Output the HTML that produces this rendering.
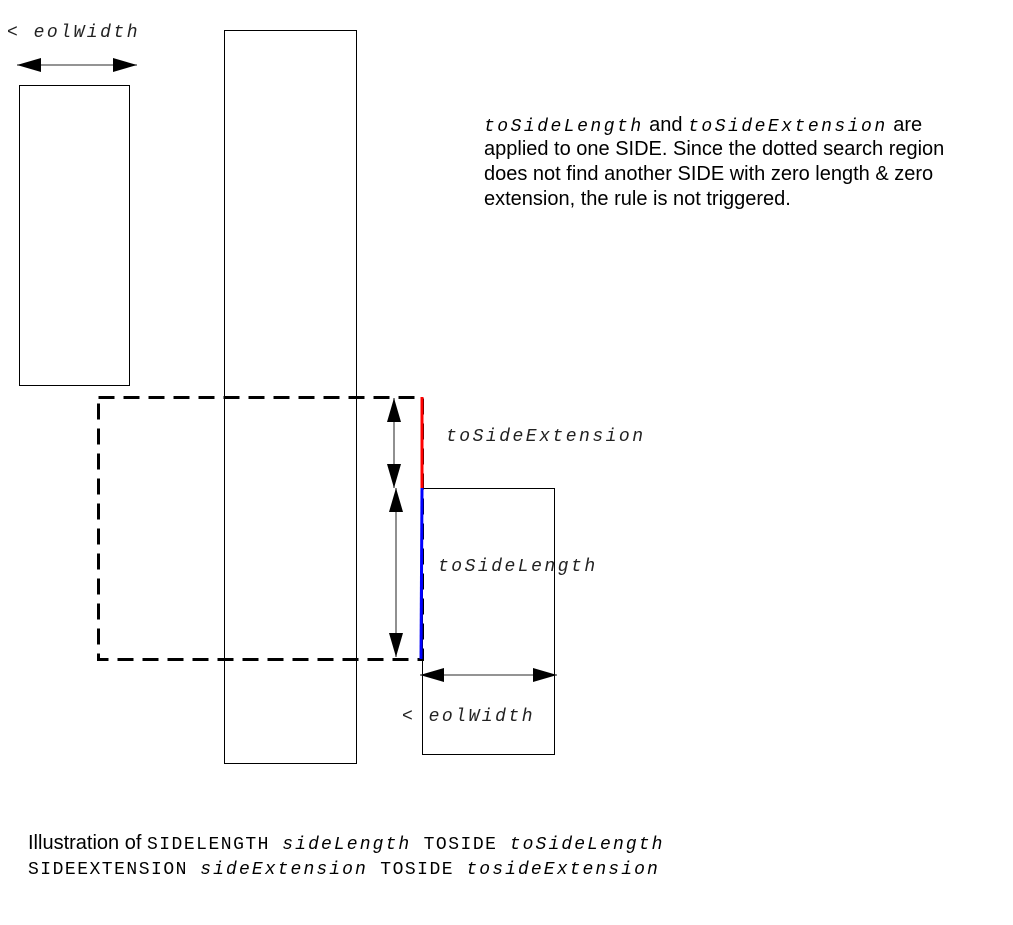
<!DOCTYPE html>
<html><head><style>
body{margin:0;background:#fff;width:1013px;height:920px;overflow:hidden}
.m{font-family:"Liberation Mono",monospace;font-style:italic;letter-spacing:2.5px}
.r{font-family:"Liberation Mono",monospace;letter-spacing:1.5px}
.b{letter-spacing:2.1px}
</style></head><body>
<svg width="1013" height="920" xmlns="http://www.w3.org/2000/svg">
<defs>
<marker id="a" markerWidth="24" markerHeight="14" refX="24" refY="7" orient="auto-start-reverse" markerUnits="userSpaceOnUse"><path d="M0,0 L24,7 L0,14 Z" fill="#000"/></marker>
</defs>
<g fill="none" stroke="#000" stroke-width="1">
<rect x="19.5" y="85.5" width="110" height="300"/>
<rect x="224.5" y="30.5" width="132" height="733"/>
<rect x="422.5" y="488.5" width="132" height="266"/>
</g>
<rect x="98.5" y="397.5" width="324" height="262" fill="none" stroke="#000" stroke-width="3" stroke-dasharray="16,9"/>
<line x1="422" y1="397" x2="422" y2="488" stroke="#f00" stroke-width="3"/>
<line x1="422" y1="488" x2="421" y2="659" stroke="#00f" stroke-width="3"/>
<g stroke="#555" stroke-width="1.3" marker-start="url(#a)" marker-end="url(#a)">
<line x1="17" y1="65" x2="137" y2="65"/>
<line x1="394" y1="398" x2="394" y2="488"/>
<line x1="396" y1="488" x2="396" y2="657"/>
<line x1="420" y1="675" x2="557" y2="675"/>
</g>
<g font-size="18" class="m" fill="#222">
<text x="7" y="37">&lt; eolWidth</text>
<text x="446" y="441">toSideExtension</text>
<text x="438" y="571">toSideLength</text>
<text x="402" y="721">&lt; eolWidth</text>
</g>
<g font-family="Liberation Sans,sans-serif" font-size="20" fill="#000">
<text x="484" y="131"><tspan class="m" font-size="18">toSideLength</tspan> and <tspan class="m" font-size="18">toSideExtension</tspan> are</text>
<text x="484" y="155">applied to one SIDE. Since the dotted search region</text>
<text x="484" y="180">does not find another SIDE with zero length &amp; zero</text>
<text x="484" y="205">extension, the rule is not triggered.</text>
<text x="28" y="849">Illustration of <tspan class="r" font-size="18">SIDELENGTH </tspan><tspan class="m b" font-size="18">sideLength</tspan><tspan class="r" font-size="18"> TOSIDE </tspan><tspan class="m b" font-size="18">toSideLength</tspan></text>
<text x="28" y="874"><tspan class="r" font-size="18">SIDEEXTENSION </tspan><tspan class="m b" font-size="18">sideExtension</tspan><tspan class="r" font-size="18"> TOSIDE </tspan><tspan class="m b" font-size="18">tosideExtension</tspan></text>
</g>
</svg>
</body></html>
